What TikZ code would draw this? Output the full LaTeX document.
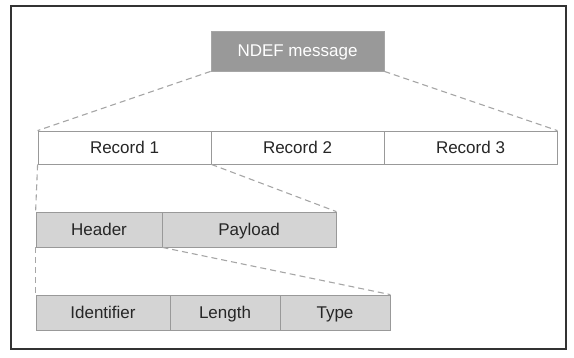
\documentclass[tikz,border=0pt]{standalone}
\usepackage{fontspec}
\setmainfont{Liberation Sans}
\begin{document}
\begin{tikzpicture}[x = 1pt, y = -1pt,
    field/.style = {draw = gray!80, line width = 0.8pt, inner sep = 0pt, minimum height = 35pt,
                    text height = 12pt, text depth = 1pt,
                    fill = black!17, text = black!85, font = \fontsize{17}{20}\selectfont},
    record/.style = {field, fill = white, minimum height = 33pt},
    message/.style = {field, draw = gray!70, fill = black!40, text = white, minimum height = 40pt},
    zoomline/.style = {draw = gray!70, line width = 1.1pt, dash pattern = on 6pt off 4pt}]
    \useasboundingbox (0, 0) rectangle (574, 357);
    \draw[black!80, line width = 1.6pt] (11, 6) rectangle (566, 349);

    \node[message, minimum width = 173pt] (msg) at (297.5, 51) {NDEF message};

    \node[record, minimum width = 173pt] (rec1) at (124.5, 147.5) {Record 1};
    \node[record, minimum width = 173pt] (rec2) at (297.5, 147.5) {Record 2};
    \node[record, minimum width = 173pt] (rec3) at (470.5, 147.5) {Record 3};

    \node[field, minimum width = 126pt] (head) at (99, 229.5) {Header};
    \node[field, minimum width = 174pt] (load) at (249, 229.5) {Payload};

    \node[field, minimum width = 134pt] (ident) at (103, 312.5) {Identifier};
    \node[field, minimum width = 110pt] (len) at (225, 312.5) {Length};
    \node[field, minimum width = 110pt] (type) at (335, 312.5) {Type};

    \draw[zoomline] (msg.south west) -- (rec1.north west);
    \draw[zoomline] (msg.south east) -- (rec3.north east);
    \draw[zoomline] (rec1.south west) -- (head.north west);
    \draw[zoomline] (rec1.south east) -- (load.north east);
    \draw[zoomline] (head.south west) -- (ident.north west);
    \draw[zoomline] (head.south east) -- (type.north east);
\end{tikzpicture}
\end{document}
